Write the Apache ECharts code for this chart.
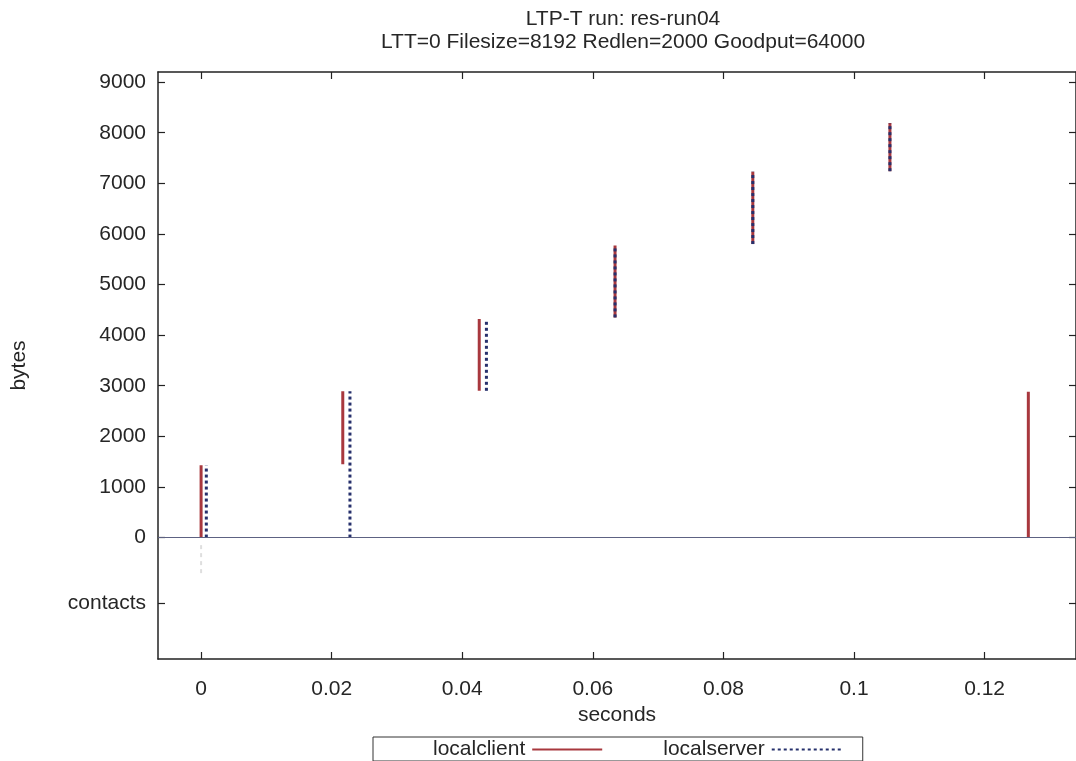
<!DOCTYPE html>
<html>
<head>
<meta charset="utf-8">
<script src="https://cdn.jsdelivr.net/npm/echarts@6/dist/echarts.min.js"></script>
<style>
  html, body { margin: 0; padding: 0; background: #fff; }
  #chart { width: 1076px; height: 761px; }
</style>
</head>
<body>
<div id="chart"></div>
<script>
// segment data: each block is a vertical run at time x
const clientX  = [0, 0.0217, 0.0426, 0.0634, 0.0845, 0.1055, 0.1267];
const clientLo = [0, 1450, 2900, 4350, 5800, 7240, 0];
const clientHi = [1430, 2890, 4320, 5770, 7230, 8192, 2880];

const serverX  = [0.0008, 0.0228, 0.0437, 0.0634, 0.0845, 0.1055];
const serverLo = [0, 0, 2900, 4350, 5800, 7240];
const serverHi = [1430, 2890, 4320, 5770, 7230, 8192];

// faint contact mark under the zero line
const contactX  = [0];
const contactLo = [-150];
const contactHi = [-750];

const xTicks = [0, 0.02, 0.04, 0.06, 0.08, 0.1, 0.12];
const contactsY = -1290;
const yTicks = [contactsY, 0, 1000, 2000, 3000, 4000, 5000, 6000, 7000, 8000, 9000];

const FONT = 'Liberation Sans, Arial, sans-serif';
const TXT = '#262626';
const AXIS = '#222';

// one line series per vertical segment
function segments(name, xs, lo, hi, lineStyle, z) {
  return xs.map((x, i) => ({
    name: name,
    type: 'line',
    symbol: 'none',
    silent: true,
    z: z,
    data: [[x, lo[i]], [x, hi[i]]],
    lineStyle: lineStyle,
    itemStyle: { color: lineStyle.color }
  }));
}

const clientStyle = { color: '#a8383e', width: 3, type: 'solid' };
const serverStyle = { color: '#26306c', width: 3, type: [3, 3] };

const series = []
  .concat(segments('contacts', contactX, contactLo, contactHi,
    { color: '#dedede', width: 2, type: [4, 4] }, 1))
  .concat(segments('localclient', clientX, clientLo, clientHi, clientStyle, 2))
  .concat(segments('localserver', serverX, serverLo, serverHi, serverStyle, 3));

// zero axis line
series[0].markLine = {
  silent: true,
  symbol: ['none', 'none'],
  label: { show: false },
  lineStyle: { color: '#5d6282', width: 1, type: 'solid' },
  data: [{ yAxis: 0 }]
};

const tickStyle = { show: true, inside: true, length: 7, lineStyle: { color: AXIS, width: 1.2 } };
const lineStyleAxis = { show: true, onZero: false, lineStyle: { color: AXIS, width: 1.5 } };

const chart = echarts.init(document.getElementById('chart'));
chart.setOption({
  animation: false,
  backgroundColor: '#ffffff',
  textStyle: { fontFamily: FONT },
  title: {
    text: 'LTP-T run: res-run04\nLTT=0 Filesize=8192 Redlen=2000 Goodput=64000',
    left: 618,
    top: 3,
    textAlign: 'center',
    textStyle: { fontFamily: FONT, fontSize: 21, fontWeight: 'normal', color: TXT, lineHeight: 23 }
  },
  legend: {
    data: ['localclient', 'localserver'],
    left: 373,
    top: 737,
    align: 'right',
    itemWidth: 70,
    itemHeight: 14,
    itemGap: 60,
    padding: [2, 20, 1, 60],
    borderColor: '#333',
    borderWidth: 1,
    selectedMode: false,
    itemStyle: { opacity: 0 },
    textStyle: { fontFamily: FONT, fontSize: 21, color: TXT, lineHeight: 20, padding: [0, 2, 0, 0] }
  },
  grid: { left: 158, top: 72, width: 919, height: 587, containLabel: false },
  xAxis: [{
    type: 'value',
    position: 'bottom',
    min: -0.0066,
    max: 0.134,
    name: 'seconds',
    nameLocation: 'middle',
    nameGap: 45,
    nameTextStyle: { fontFamily: FONT, fontSize: 21, color: TXT },
    axisLine: lineStyleAxis,
    axisTick: Object.assign({ customValues: xTicks }, tickStyle),
    axisLabel: {
      customValues: xTicks,
      margin: 20,
      fontFamily: FONT, fontSize: 21, color: TXT,
      formatter: v => String(v)
    },
    splitLine: { show: false }
  }, {
    type: 'value',
    position: 'top',
    min: -0.0066,
    max: 0.134,
    axisLine: lineStyleAxis,
    axisTick: Object.assign({ customValues: xTicks }, tickStyle),
    axisLabel: { show: false },
    splitLine: { show: false }
  }],
  yAxis: [{
    type: 'value',
    position: 'left',
    min: -2400,
    max: 9200,
    name: 'bytes',
    nameLocation: 'middle',
    nameRotate: 90,
    nameGap: 128,
    nameTextStyle: { fontFamily: FONT, fontSize: 21, color: TXT },
    axisLine: lineStyleAxis,
    axisTick: Object.assign({ customValues: yTicks }, tickStyle),
    axisLabel: {
      customValues: yTicks,
      margin: 12,
      fontFamily: FONT, fontSize: 21, color: TXT,
      formatter: v => (v === contactsY ? 'contacts' : String(v))
    },
    splitLine: { show: false }
  }, {
    type: 'value',
    position: 'right',
    min: -2400,
    max: 9200,
    axisLine: lineStyleAxis,
    axisTick: Object.assign({ customValues: yTicks }, tickStyle),
    axisLabel: { show: false },
    splitLine: { show: false }
  }],
  series: series
});
</script>
</body>
</html>
